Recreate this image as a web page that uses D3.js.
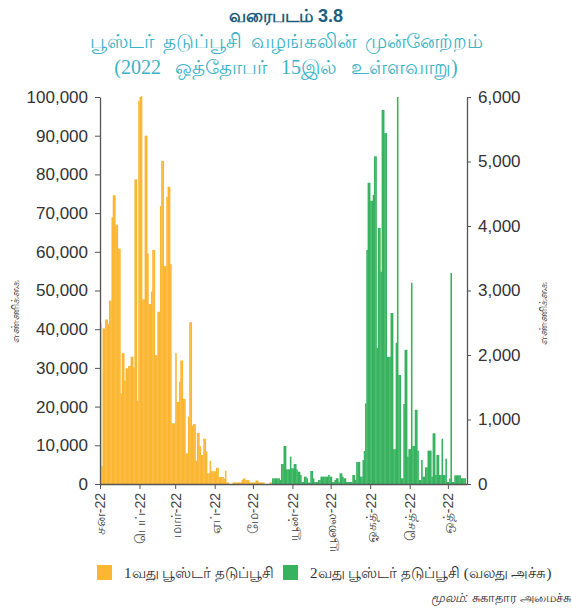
<!DOCTYPE html>
<html>
<head>
<meta charset="utf-8">
<script src="https://cdn.jsdelivr.net/npm/d3@7"></script>
<style>
    body { margin: 0; background: #fff; }
    svg { display: block; font-family: "Liberation Sans", Arial, sans-serif; }
</style>
</head>
<body>
<div id="chart"></div>
<script>
// ===== Data =====
const monthLabels = ["சன-22", "பெப்-22", "மார்-22", "ஏப்-22", "மே-22", "யூன்-22", "யூலை-22", "ஓகத்-22", "செத்-22", "ஒத்-22"];
const leftTicks = [0, 10000, 20000, 30000, 40000, 50000, 60000, 70000, 80000, 90000, 100000];
const rightTicks = [0, 1000, 2000, 3000, 4000, 5000, 6000];

// 1st booster, daily from 1 Jan 2022
const booster1Start = new Date(2022, 0, 1);
const booster1 = [
    41500, 4600, 40200, 40200, 42500, 42500, 41300, 47400, 47400, 68900,
    74600, 74600, 67000, 67000, 60800, 60800, 23400, 33800, 33800, 26700,
    29900, 29900, 30500, 30500, 32900, 32900, 30100, 78700, 78700, 21500,
    99000, 100000, 100200, 47700, 47700, 90000, 90000, 59600, 46500, 46500,
    49700, 60500, 60500, 33300, 33300, 44500, 44500, 71800, 83500, 83500,
    56300, 56300, 74200, 76800, 76800, 56800, 15700, 15700, 15700, 33800,
    21200, 21200, 26400, 31900, 31900, 22000, 22000, 7900, 7900, 17400,
    41800, 41800, 15100, 15500, 15500, 6000, 13200, 13200, 9800, 7500,
    7500, 11700, 11700, 8400, 2800, 2800, 6000, 3300, 3300, 3300,
    3300, 4200, 4200, 1800, 1800, 1800, 1800, 1400, 3400, 400,
    400, 0, 0, 0, 400, 400, 400, 400, 400, 400,
    400, 1000, 1400, 1400, 1000, 1000, 1000, 400, 400, 400,
    400, 400, 900, 900, 400, 400, 400, 400, 400, 0,
    0, 0, 0, 400, 400
];

// 2nd booster (right axis), daily from 16 May 2022
const booster2Start = new Date(2022, 4, 16);
const booster2 = [
    88, 88, 88, 88, 88, 88, 62, 310, 310, 589,
    589, 227, 227, 227, 424, 243, 243, 310, 310, 227,
    191, 191, 140, 31, 31, 114, 114, 88, 21, 21,
    202, 202, 88, 31, 31, 31, 62, 62, 114, 114,
    114, 114, 114, 114, 140, 114, 114, 31, 31, 62,
    88, 88, 31, 165, 165, 114, 88, 88, 31, 31,
    31, 31, 31, 140, 140, 62, 341, 341, 341, 114,
    114, 372, 512, 1250, 3630, 4670, 4670, 4390, 4390, 4480,
    5080, 5080, 2110, 3970, 3970, 3290, 5800, 5800, 5440, 5440,
    1970, 1970, 1970, 2650, 2650, 540, 540, 2190, 6000, 1690,
    1690, 88, 88, 1240, 2080, 2080, 424, 540, 540, 3120,
    590, 590, 1150, 1150, 517, 62, 62, 372, 114, 114,
    258, 258, 517, 517, 517, 114, 786, 786, 140, 450,
    450, 140, 140, 703, 140, 140, 393, 31, 31, 88,
    3270, 31, 31, 134, 134, 134, 134, 134, 88, 88,
    88, 88
];

const legendItems = [
    { label: "1வது பூஸ்டர் தடுப்பூசி", color: "#fbb632", x: 97 },
    { label: "2வது பூஸ்டர் தடுப்பூசி (வலது அச்சு)", color: "#37b35f", x: 283 }
];

// ===== Layout =====
const width = 572;
const height = 614;
const margin = { top: 97, right: 105, bottom: 130, left: 100 };
const plotBottom = height - margin.bottom;

const svg = d3.select("#chart")
    .append("svg")
    .attr("width", width)
    .attr("height", height);

// ===== Title =====
svg.append("text")
    .attr("x", 286).attr("y", 22)
    .attr("text-anchor", "middle")
    .style("font-size", "18px")
    .style("font-weight", "bold")
    .attr("fill", "#1b5f7c")
    .text("வரைபடம் 3.8");

[["பூஸ்டர் தடுப்பூசி வழங்கலின் முன்னேற்றம்", 4], ["(2022 ஒத்தோபர் 15இல் உள்ளவாறு)", 9]].forEach(([t, ws], k) => {
    svg.append("text")
        .attr("x", 286).attr("y", 48 + k * 26)
        .attr("text-anchor", "middle")
        .style("font-size", "20px")
        .style("word-spacing", `${ws}px`)
        .style("font-family", "'Liberation Serif', serif")
        .attr("fill", "#3bb3c6")
        .text(t);
});

// ===== Scales =====
const x = d3.scaleTime()
    .domain([new Date(2022, 0, 1), new Date(2022, 9, 16)])
    .range([margin.left, width - margin.right]);

const yLeft = d3.scaleLinear()
    .domain([0, 100000])
    .range([plotBottom, margin.top]);

const yRight = d3.scaleLinear()
    .domain([0, 6000])
    .range([plotBottom, margin.top]);

// ===== Bars =====
function drawBars(values, start, y, color) {
    const data = values.map((v, i) => ({ date: d3.timeDay.offset(start, i), v }));
    svg.append("g")
        .selectAll("rect")
        .data(data.filter(d => d.v > 0))
        .join("rect")
        .attr("x", d => x(d.date))
        .attr("width", d => x(d3.timeDay.offset(d.date, 1)) - x(d.date) + 0.3)
        .attr("y", d => y(d.v))
        .attr("height", d => plotBottom - y(d.v))
        .attr("fill", color);
}

drawBars(booster1, booster1Start, yLeft, "#fbb632");
drawBars(booster2, booster2Start, yRight, "#37b35f");

// ===== Axes =====
const fmt = d3.format(",");

const leftAxis = svg.append("g")
    .attr("transform", `translate(${margin.left},0)`)
    .call(d3.axisLeft(yLeft).tickValues(leftTicks).tickFormat(fmt).tickSize(5).tickSizeOuter(0).tickPadding(7));

const rightAxis = svg.append("g")
    .attr("transform", `translate(${width - margin.right},0)`)
    .call(d3.axisRight(yRight).tickValues(rightTicks).tickFormat(fmt).tickSize(4).tickSizeOuter(0).tickPadding(7));

const bottomAxis = svg.append("g")
    .attr("transform", `translate(0,${plotBottom})`)
    .call(d3.axisBottom(x).ticks(d3.timeMonth.every(1)).tickSize(5).tickSizeOuter(0)
        .tickFormat(d => monthLabels[d.getMonth()]));

[leftAxis, rightAxis].forEach(a => {
    a.selectAll("text").style("font-size", "17px").attr("fill", "#333");
});
[leftAxis, rightAxis, bottomAxis].forEach(a => {
    a.select(".domain").attr("stroke", "#555").attr("stroke-width", 1.3);
    a.selectAll(".tick line").attr("stroke", "#555");
});

bottomAxis.selectAll("text")
    .attr("transform", "rotate(-90)")
    .attr("text-anchor", "end")
    .attr("x", -9)
    .attr("y", 0)
    .attr("dy", "0.35em")
    .style("font-size", "14px")
    .attr("fill", "#444");

// ===== Axis titles =====
[[15, 311], [543, 313]].forEach(([tx, ty]) => {
    svg.append("text")
        .attr("transform", `translate(${tx},${ty}) rotate(-90)`)
        .attr("text-anchor", "middle")
        .attr("dy", "0.35em")
        .style("font-size", "11px")
        .attr("fill", "#444")
        .text("எண்ணிக்கை");
});

// ===== Legend =====
const legend = svg.append("g");
legendItems.forEach(item => {
    legend.append("rect")
        .attr("x", item.x).attr("y", 565)
        .attr("width", 15).attr("height", 15)
        .attr("fill", item.color);
    legend.append("text")
        .attr("x", item.x + 27).attr("y", 578)
        .style("font-size", "15px")
        .style("font-family", "'Liberation Serif', serif")
        .attr("fill", "#333")
        .text(item.label);
});

// ===== Source =====
const src = svg.append("text")
    .attr("x", 571).attr("y", 602)
    .attr("text-anchor", "end")
    .style("font-size", "12.5px")
    .attr("fill", "#333");
src.append("tspan").style("font-style", "italic").text("மூலம்: ");
src.append("tspan").text(" சுகாதார அமைச்சு");
</script>
</body>
</html>
